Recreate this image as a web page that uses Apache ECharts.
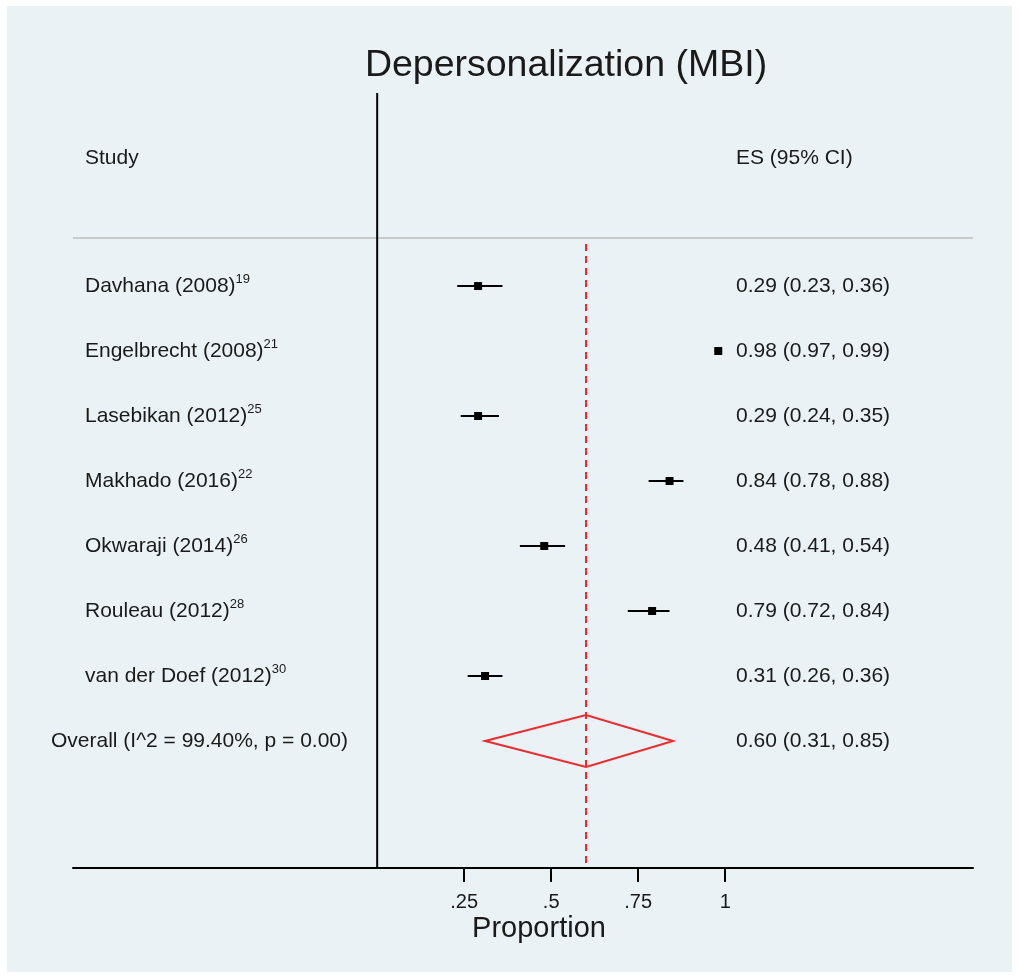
<!DOCTYPE html>
<html>
<head>
<meta charset="utf-8">
<script src="https://cdn.jsdelivr.net/npm/echarts@6/dist/echarts.min.js"></script>
<style>
html,body{margin:0;padding:0;background:#ffffff;}
#chart{width:1019px;height:978px;}
</style>
</head>
<body>
<div id="chart"></div>
<script>
// ---- data ----
const studies = ['Davhana (2008)', 'Engelbrecht (2008)', 'Lasebikan (2012)', 'Makhado (2016)', 'Okwaraji (2014)', 'Rouleau (2012)', 'van der Doef (2012)'];
const refs = ['19', '21', '25', '22', '26', '28', '30'];
const esValues = [0.29, 0.98, 0.29, 0.84, 0.48, 0.79, 0.31];
const ciLow = [0.23, 0.97, 0.24, 0.78, 0.41, 0.72, 0.26];
const ciHigh = [0.36, 0.99, 0.35, 0.88, 0.54, 0.84, 0.36];
const overallLabel = 'Overall (I^2 = 99.40%, p = 0.00)';
const overallES = 0.60;
const overallLow = 0.31;
const overallHigh = 0.85;
const tickValues = [0.25, 0.5, 0.75, 1];
const titleText = 'Depersonalization (MBI)';
const xAxisTitle = 'Proportion';
const headerStudy = 'Study';
const headerES = 'ES (95% CI)';

// ---- layout ----
const FONT = "'Liberation Sans', Arial, Helvetica, sans-serif";
const TXT = '#1a1a1a';
const BG = '#EAF2F5';
const X_MIN = -0.874, X_MAX = 1.712;
const Y_MIN = -2.97, Y_MAX = 8.954;
const HEADER_ROW = -1.97, SEP_ROW = -0.738, DASH_TOP = -0.646;
const LABEL_X = 85, OVERALL_X = 51, ES_X = 736;
const FS = 21;
const fmt = v => v.toFixed(2);

const chart = echarts.init(document.getElementById('chart'), null, {renderer: 'canvas'});

const rowData = studies.map((s, i) => [i, esValues[i], ciLow[i], ciHigh[i]]);
const overallRow = studies.length;

const option = {
  animation: false,
  backgroundColor: 'transparent',
  grid: {left: 73, right: 46, top: 93, bottom: 110, containLabel: false},
  xAxis: {
    type: 'value', min: X_MIN, max: X_MAX,
    axisLine: {show: true, onZero: false, lineStyle: {color: '#000', width: 2}},
    axisTick: {show: true, customValues: tickValues, length: 14, lineStyle: {color: '#000', width: 2}},
    axisLabel: {show: true, customValues: tickValues, fontSize: 20, fontFamily: FONT, color: TXT, margin: 24,
      formatter: v => String(v).replace(/^0\./, '.')},
    splitLine: {show: false}
  },
  yAxis: {
    type: 'value', min: Y_MIN, max: Y_MAX, inverse: true, show: false,
    splitLine: {show: false}
  },
  graphic: [
    {type: 'rect', z: -10, silent: true, shape: {x: 7, y: 6, width: 1005, height: 966}, style: {fill: BG}},
    {type: 'text', x: 566, y: 66, style: {text: titleText, fontSize: 37.5, fontFamily: FONT, fill: TXT, align: 'center', verticalAlign: 'middle'}},
    {type: 'text', x: 539, y: 929, style: {text: xAxisTitle, fontSize: 29, fontFamily: FONT, fill: TXT, align: 'center', verticalAlign: 'middle'}}
  ],
  series: [
    { // header separator
      type: 'line', silent: true, symbol: 'none', z: 1,
      data: [[X_MIN, SEP_ROW], [X_MAX, SEP_ROW]],
      lineStyle: {color: '#BDBDBD', width: 1.5}
    },
    { // null line at 0
      type: 'line', silent: true, symbol: 'none', z: 2,
      data: [[0, Y_MIN], [0, Y_MAX]],
      lineStyle: {color: '#000', width: 2}
    },
    { // overall effect dashed line
      type: 'line', silent: true, symbol: 'none', z: 2,
      data: [[overallES, DASH_TOP], [overallES, Y_MAX]],
      lineStyle: {color: '#EE2A2F', width: 2, type: [7, 5]}
    },
    { // column headers
      type: 'custom', z: 5, clip: false,
      data: [[HEADER_ROW]],
      renderItem: function (params, api) {
        const c = api.coord([0, api.value(0)]);
        return {type: 'group', children: [
          {type: 'text', x: LABEL_X, y: c[1], style: {text: headerStudy, fontSize: FS, fontFamily: FONT, fill: TXT, align: 'left', verticalAlign: 'middle'}},
          {type: 'text', x: ES_X, y: c[1], style: {text: headerES, fontSize: FS, fontFamily: FONT, fill: TXT, align: 'left', verticalAlign: 'middle'}}
        ]};
      }
    },
    { // studies
      type: 'custom', z: 5, clip: false,
      data: rowData,
      renderItem: function (params, api) {
        const i = api.value(0);
        const e = api.value(1), l = api.value(2), h = api.value(3);
        const c = api.coord([e, i]);
        const cl = api.coord([l, i]);
        const ch = api.coord([h, i]);
        const s = 8;
        return {
          type: 'group',
          children: [
            {type: 'line', shape: {x1: cl[0], y1: cl[1], x2: ch[0], y2: ch[1]}, style: {stroke: '#000', lineWidth: 2}},
            {type: 'rect', shape: {x: c[0] - s / 2, y: c[1] - s / 2, width: s, height: s}, style: {fill: '#000'}},
            {type: 'text', x: LABEL_X, y: c[1], style: {
              text: '{m|' + studies[i] + '}{s|' + refs[i] + '}',
              align: 'left', verticalAlign: 'middle',
              rich: {
                m: {fontSize: FS, fontFamily: FONT, fill: TXT, lineHeight: 26, verticalAlign: 'middle'},
                s: {fontSize: 13, fontFamily: FONT, fill: TXT, lineHeight: 13, verticalAlign: 'top'}
              }
            }},
            {type: 'text', x: ES_X, y: c[1], style: {
              text: fmt(e) + ' (' + fmt(l) + ', ' + fmt(h) + ')',
              fontSize: FS, fontFamily: FONT, fill: TXT, align: 'left', verticalAlign: 'middle'
            }}
          ]
        };
      }
    },
    { // overall diamond
      type: 'custom', z: 6, clip: false,
      data: [[overallRow, overallES, overallLow, overallHigh]],
      renderItem: function (params, api) {
        const r = api.value(0);
        const e = api.value(1), l = api.value(2), h = api.value(3);
        const pl = api.coord([l, r]);
        const ph = api.coord([h, r]);
        const pt = api.coord([e, r - 0.4]);
        const pb = api.coord([e, r + 0.4]);
        return {
          type: 'group',
          children: [
            {type: 'polygon', shape: {points: [pl, pt, ph, pb]}, style: {fill: 'none', stroke: '#EE2A2F', lineWidth: 2}},
            {type: 'text', x: OVERALL_X, y: pl[1], style: {text: overallLabel, fontSize: FS, fontFamily: FONT, fill: TXT, align: 'left', verticalAlign: 'middle'}},
            {type: 'text', x: ES_X, y: pl[1], style: {text: fmt(e) + ' (' + fmt(l) + ', ' + fmt(h) + ')', fontSize: FS, fontFamily: FONT, fill: TXT, align: 'left', verticalAlign: 'middle'}}
          ]
        };
      }
    }
  ]
};
chart.setOption(option);
</script>
</body>
</html>
